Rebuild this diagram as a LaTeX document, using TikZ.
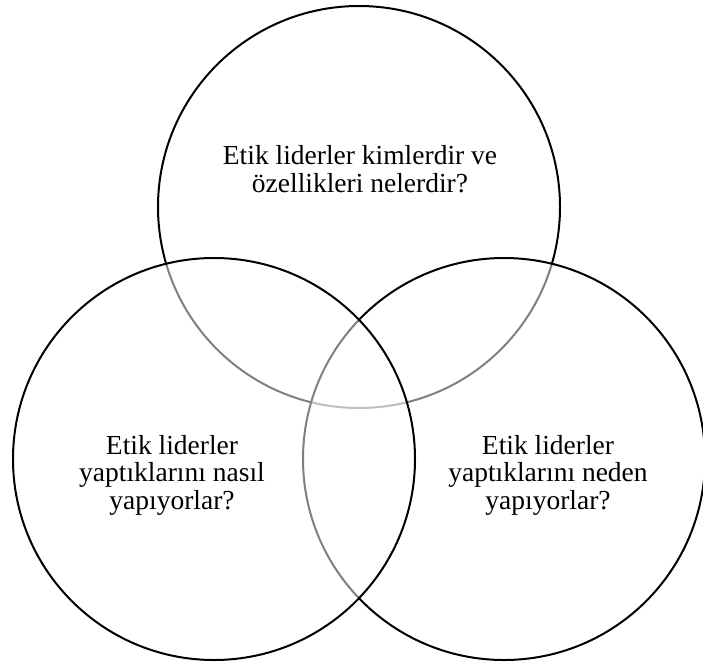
\documentclass[tikz,border=0pt]{standalone}
\usepackage{fontspec}
\setmainfont{Liberation Serif}
\usepackage{tikz}
\usetikzlibrary{positioning}

\begin{document}
\begin{tikzpicture}[
        x=1pt, y=-1pt,
        venn/.style={
            circle,
            draw=black,
            fill=white,
            fill opacity=0.5,
            line width=2pt,
            minimum size=402pt,
            inner sep=0pt,
            outer sep=0pt
        },
        label/.style={
            align=center,
            inner sep=0pt,
            font=\fontsize{27.5}{27.5}\selectfont
        }
    ]
    \useasboundingbox (0,0) rectangle (703,666);

    % Circles (top, right, left)
    \node[venn] (who) at (359,207) {};
    \node[venn] (why) at (504,459) {};
    \node[venn] (how) at (214,459) {};

    % Questions
    \node[label] (whotext) at (360,169) {Etik liderler kimlerdir ve\\ özellikleri nelerdir?};
    \node[label] (howtext) at (172,475) {Etik liderler\\ yaptıklarını nasıl\\ yapıyorlar?};
    \node[label] (whytext) at (548,475) {Etik liderler\\ yaptıklarını neden\\ yapıyorlar?};

\end{tikzpicture}
\end{document}
